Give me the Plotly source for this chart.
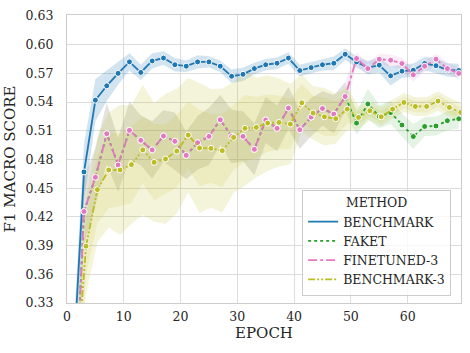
"""F1 macro score per epoch for four training methods (seaborn-style line plot)."""

import plotly.graph_objects as go

FONT = "DejaVu Serif"
TEXT = "#262626"
GRID = "#dcdcdc"

EPOCHS = list(range(1, 70, 2))
BENCHMARK3_EPOCHS = [1.35, 3.35, 5.35, 7.35, 9.35, 11.35, 13.35, 15.35, 17.35, 19.35,
                     21.35, 23.35, 25.35, 27.35, 29.35, 31.35, 33.35, 35.35, 37.35, 39.35,
                     41.35, 43.35, 45.35, 47.35, 49.35, 51.35, 53.35, 55.35, 57.35, 59.35,
                     61.35, 63.35, 65.35, 67.35, 69.35]

BENCHMARK_F1 = [0.255, 0.467, 0.542, 0.557, 0.570, 0.582, 0.571, 0.583, 0.586, 0.579,
                0.5775, 0.582, 0.582, 0.5775, 0.567, 0.569, 0.575, 0.579, 0.5806, 0.586,
                0.573, 0.576, 0.579, 0.5806, 0.590, 0.582, 0.576, 0.5786, 0.5674, 0.5723,
                0.5733, 0.5803, 0.578, 0.5737, 0.573]
FINETUNED_F1 = [0.17, 0.4256, 0.4614, 0.5069, 0.4742, 0.5104, 0.500, 0.490, 0.5045, 0.499,
                0.4843, 0.4975, 0.5041, 0.5215, 0.5041, 0.5041, 0.4906, 0.5212, 0.5125, 0.5337,
                0.5111, 0.5243, 0.5333, 0.5274, 0.5458, 0.5855, 0.575, 0.5848, 0.5838, 0.5803,
                0.5685, 0.5775, 0.5848, 0.575, 0.570]
FAKET_F1 = FINETUNED_F1[:25] + [0.518, 0.538, 0.525, 0.529, 0.516,
                                0.504, 0.5145, 0.515, 0.5205, 0.5225]
BENCHMARK3_F1 = [0.23, 0.3894, 0.4485, 0.469, 0.469, 0.4746, 0.490, 0.477, 0.4805, 0.4888,
                 0.5055, 0.492, 0.4916, 0.4892, 0.5031, 0.5125, 0.5135, 0.518, 0.5187, 0.517,
                 0.5392, 0.5285, 0.5246, 0.5226, 0.5326, 0.524, 0.5309, 0.5246, 0.5326, 0.5396,
                 0.5354, 0.5354, 0.541, 0.5344, 0.5292]

# half-widths of the shaded bands (outer and, for the noisy runs, inner layer)
BENCHMARK_CI = [0.03, 0.03, 0.022, 0.016, 0.012, 0.009, 0.008, 0.008, 0.007, 0.007,
                0.006, 0.007, 0.006, 0.006, 0.007, 0.007, 0.006, 0.006, 0.006, 0.006,
                0.006, 0.006, 0.006, 0.007, 0.006, 0.006, 0.007, 0.008, 0.01, 0.007,
                0.007, 0.007, 0.008, 0.007, 0.007]
FINETUNED_CI = [0.035, 0.035, 0.03, 0.032, 0.028, 0.03, 0.026, 0.03, 0.027, 0.03,
                0.025, 0.028, 0.03, 0.026, 0.028, 0.026, 0.027, 0.024, 0.024, 0.022,
                0.02, 0.02, 0.018, 0.02, 0.015, 0.006, 0.006, 0.006, 0.006, 0.006,
                0.007, 0.006, 0.006, 0.006, 0.006]
FAKET_CI = FINETUNED_CI[:25] + [0.012, 0.016, 0.012, 0.012, 0.012,
                                0.013, 0.01, 0.01, 0.01, 0.01]
BENCHMARK3_CI = [0.05, 0.05, 0.055, 0.06, 0.068, 0.062, 0.068, 0.062, 0.068, 0.065,
                 0.06, 0.068, 0.062, 0.065, 0.058, 0.06, 0.052, 0.05, 0.046, 0.042,
                 0.03, 0.028, 0.03, 0.026, 0.022, 0.012, 0.01, 0.01, 0.01, 0.01,
                 0.01, 0.01, 0.01, 0.01, 0.01]
BENCHMARK3_CI_INNER = [0.03, 0.03, 0.035, 0.04, 0.038, 0.04, 0.035, 0.04, 0.036, 0.038,
                       0.035, 0.04, 0.036, 0.038, 0.034, 0.035, 0.032, 0.03, 0.028, 0.026,
                       0.02, 0.018, 0.02, 0.018, 0.015, 0.007, 0.006, 0.006, 0.006, 0.006,
                       0.006, 0.006, 0.006, 0.006, 0.006]

Y_TICKS = [0.33, 0.36, 0.39, 0.42, 0.45, 0.48, 0.51, 0.54, 0.57, 0.60, 0.63]

SERIES = [
    ("BENCHMARK", EPOCHS, BENCHMARK_F1, (31, 119, 180), "solid"),
    ("FAKET", EPOCHS, FAKET_F1, (44, 160, 44), "dot"),
    ("FINETUNED-3", EPOCHS, FINETUNED_F1, (227, 119, 194), "dashdot"),
    ("BENCHMARK-3", BENCHMARK3_EPOCHS, BENCHMARK3_F1, (188, 189, 34),
     "7px,2px,2px,2px,2px,2px"),
]

BANDS = [
    (EPOCHS, BENCHMARK_F1, BENCHMARK_CI, (31, 119, 180), 0.2),
    (EPOCHS, FAKET_F1, FAKET_CI, (44, 160, 44), 0.13),
    (EPOCHS, FINETUNED_F1, FINETUNED_CI, (227, 119, 194), 0.13),
    (BENCHMARK3_EPOCHS, BENCHMARK3_F1, BENCHMARK3_CI, (188, 189, 34), 0.17),
    (BENCHMARK3_EPOCHS, BENCHMARK3_F1, BENCHMARK3_CI_INNER, (188, 189, 34), 0.14),
]

fig = go.Figure()

for xs, ys, ci, rgb, alpha in BANDS:
    upper = [y + c for y, c in zip(ys, ci)]
    lower = [y - c for y, c in zip(ys, ci)]
    fig.add_trace(go.Scatter(
        x=list(xs) + list(xs)[::-1], y=upper + lower[::-1],
        fill="toself", fillcolor="rgba(%d,%d,%d,%.2f)" % (*rgb, alpha),
        line=dict(width=0), mode="lines", hoverinfo="skip", showlegend=False))

for name, xs, ys, rgb, dash in SERIES:
    color = "rgb(%d,%d,%d)" % rgb
    fig.add_trace(go.Scatter(
        x=xs, y=ys, mode="lines+markers", name=name, showlegend=False,
        line=dict(color=color, width=1.8, dash=dash),
        marker=dict(size=6, color=color, line=dict(width=1, color="white"))))
    # legend entry: line only, as in seaborn
    fig.add_trace(go.Scatter(
        x=[None], y=[None], mode="lines", name=name,
        line=dict(color=color, width=1.8, dash=dash)))

fig.update_layout(
    width=470, height=353,
    paper_bgcolor="white", plot_bgcolor="white",
    font=dict(family=FONT, size=12.5, color=TEXT),
    margin=dict(l=67, r=8, t=13, b=50),
    showlegend=True,
    legend=dict(
        title=dict(text="METHOD", side="top center", font=dict(size=12.5)),
        x=0.975, y=0.025, xanchor="right", yanchor="bottom",
        bgcolor="rgba(255,255,255,0.8)", bordercolor="#cccccc", borderwidth=1,
        font=dict(size=12.5), itemwidth=30, tracegroupgap=0),
    xaxis=dict(
        range=[0, 69.4], tickvals=[0, 10, 20, 30, 40, 50, 60],
        gridcolor=GRID, gridwidth=1.2, zeroline=False,
        showline=True, mirror=True, linecolor="#cccccc", linewidth=1.2,
        ticklabelstandoff=2,
        title=dict(text="EPOCH", standoff=2)),
    yaxis=dict(
        range=[0.33, 0.631],
        tickvals=Y_TICKS, ticktext=["%.2f" % v for v in Y_TICKS],
        gridcolor=GRID, gridwidth=1.2, zeroline=False,
        showline=True, mirror=True, linecolor="#cccccc", linewidth=1.2,
        ticklabelstandoff=10,
        title=dict(text="F1 MACRO SCORE", standoff=6)),
)

# drop the browser's default body margin so the figure sits at the page corner
fig.write_html("out.html", config={"displayModeBar": False},
               post_script="document.body.style.margin = '0';")
